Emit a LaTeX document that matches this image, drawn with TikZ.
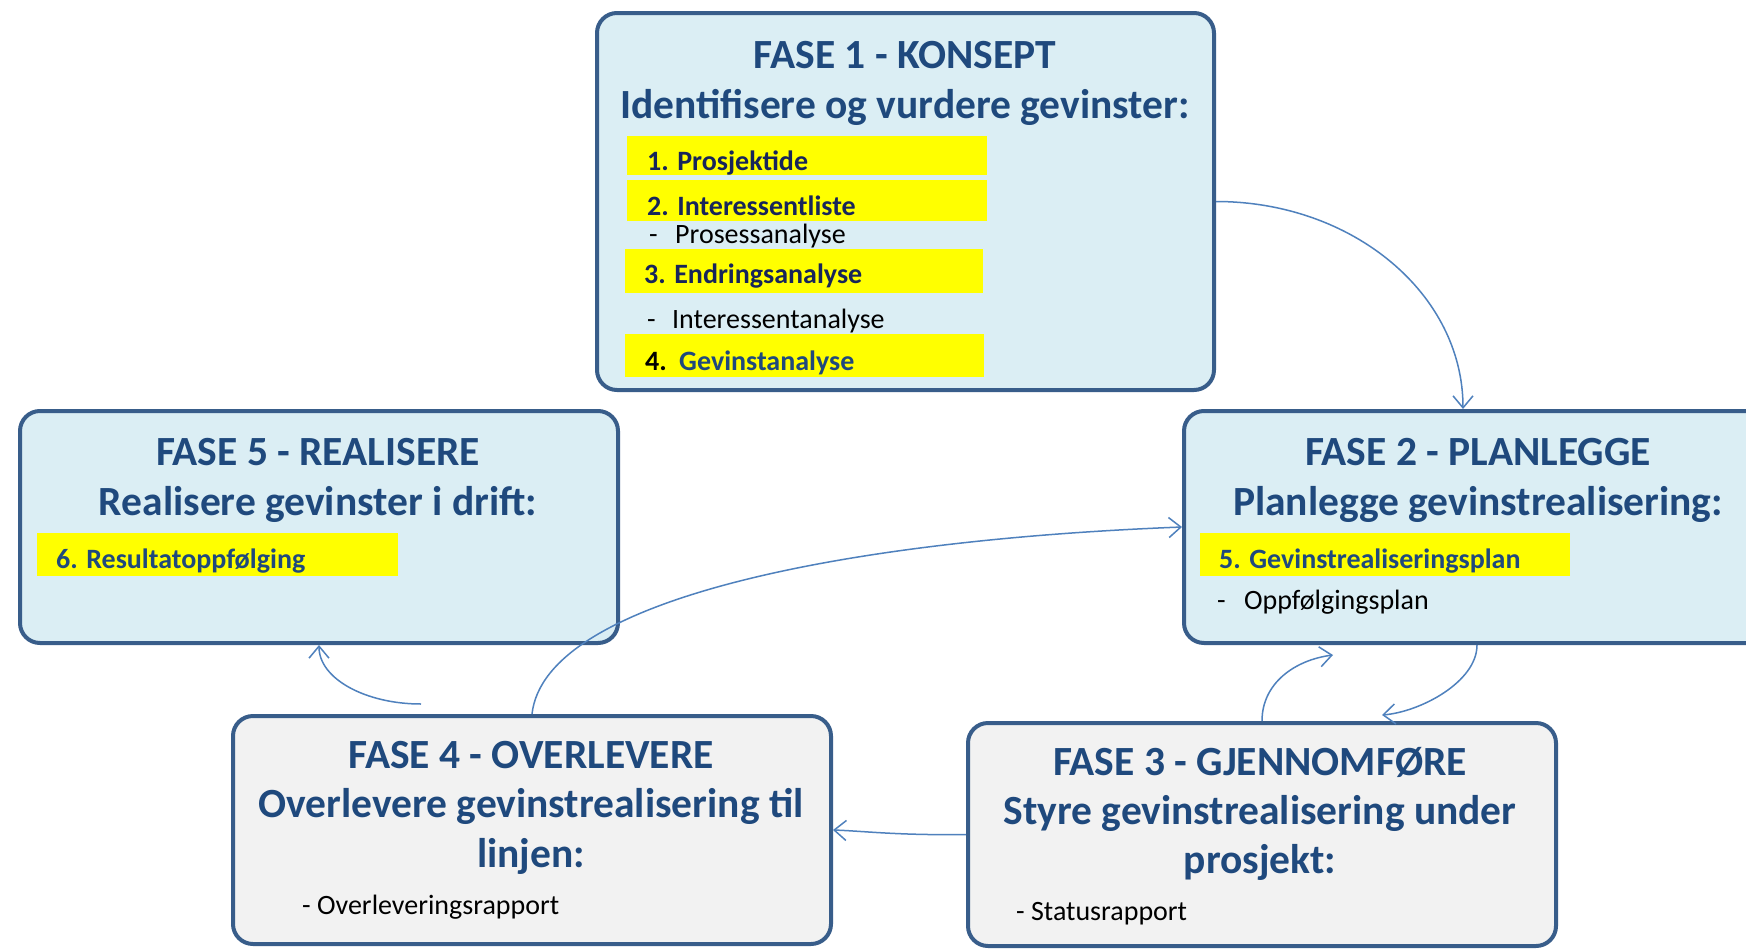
\documentclass[tikz,border=0pt]{standalone}
\usepackage{fontspec}
\setmainfont{Carlito}
\usetikzlibrary{arrows.meta,calc}
\definecolor{boxline}{HTML}{385D8A}
\definecolor{bluefill}{HTML}{DBEEF4}
\definecolor{grayfill}{HTML}{F2F2F2}
\definecolor{titlecol}{HTML}{1F497D}
\definecolor{navy}{HTML}{17255A}
\definecolor{arrowcol}{HTML}{4F81BD}
\definecolor{hlyellow}{HTML}{FFFF00}
\begin{document}
\begin{tikzpicture}[x=1pt,y=-1pt,
  phase/.style={draw=boxline, line width=4pt, rounded corners=20pt, inner sep=0pt},
  ttl/.style={font=\fontsize{41.5}{49}\selectfont\bfseries, text=titlecol, inner sep=0pt, anchor=base},
  hlbox/.style={fill=hlyellow, inner sep=0pt, anchor=north west},
  itm/.style={font=\fontsize{28}{34}\selectfont\bfseries, inner sep=0pt, anchor=base west},
  plain/.style={font=\fontsize{28}{34}\selectfont, inner sep=0pt, anchor=base west, text=black},
  conn/.style={draw=arrowcol, line width=1.5pt, -{Straight Barb[length=12pt,width=20pt]}}
]
\fill[white] (0,0) rectangle (1746,948);
\clip (0,0) rectangle (1746,948);

% boxes
\node[phase, fill=bluefill, minimum width=617pt, minimum height=377pt] (b1) at (905.5,201.5) {};
\node[phase, fill=bluefill, minimum width=598pt, minimum height=232pt] (b5) at (319,527) {};
\node[phase, fill=bluefill, minimum width=588pt, minimum height=232pt] (b2) at (1478,527) {};
\node[phase, fill=grayfill, minimum width=598pt, minimum height=228pt] (b4) at (532,830) {};
\node[phase, fill=grayfill, minimum width=588pt, minimum height=223pt] (b3) at (1262,834.5) {};

% box 1 texts
\node[ttl] (t1a) at (905,68) {FASE 1 - KONSEPT};
\node[ttl] (t1b) at (905,118) {Identifisere og vurdere gevinster:};
\node[hlbox, minimum width=360pt, minimum height=39pt] (h1) at (627,136) {};
\node[hlbox, minimum width=360pt, minimum height=41pt] (h2) at (627,180) {};
\node[hlbox, minimum width=358pt, minimum height=44pt] (h3) at (625,249) {};
\node[hlbox, minimum width=359pt, minimum height=43pt] (h4) at (625,334) {};
\node[itm, text=navy] (i1) at (647,170) {1. Prosjektide};
\node[itm, text=navy] (i2) at (647,215) {2. Interessentliste};
\node[plain] (p1) at (649,243) {\makebox[26pt][l]{-}Prosessanalyse};
\node[itm, text=navy] (i3) at (644,283) {3. Endringsanalyse};
\node[plain] (p2) at (647,328) {\makebox[25pt][l]{-}Interessentanalyse};
\node[itm, text=black] (i4) at (645,370) {\makebox[34pt][l]{4.}\textcolor{titlecol}{Gevinstanalyse}};

% box 5 texts
\node[ttl] (t5a) at (318,465) {FASE 5 - REALISERE};
\node[ttl] (t5b) at (318,515) {Realisere gevinster i drift:};
\node[hlbox, minimum width=361pt, minimum height=43pt] (h6) at (37,533) {};
\node[itm, text=titlecol] (i6) at (56,568) {6. Resultatoppfølging};

% box 2 texts
\node[ttl] (t2a) at (1478,465) {FASE 2 - PLANLEGGE};
\node[ttl] (t2b) at (1478,515) {Planlegge gevinstrealisering:};
\node[hlbox, minimum width=370pt, minimum height=43pt] (h5) at (1200,533) {};
\node[itm, text=titlecol] (i5) at (1219,568) {5. Gevinstrealiseringsplan};
\node[plain] (p5) at (1217,609) {\makebox[27pt][l]{-}Oppfølgingsplan};

% box 4 texts
\node[ttl] (t4a) at (531,768) {FASE 4 - OVERLEVERE};
\node[ttl] (t4b) at (531,817) {Overlevere gevinstrealisering til};
\node[ttl] (t4c) at (531,867) {linjen:};
\node[plain] (p4) at (302,914) {- Overleveringsrapport};

% box 3 texts
\node[ttl] (t3a) at (1260,775) {FASE 3 - GJENNOMFØRE};
\node[ttl] (t3b) at (1260,824) {Styre gevinstrealisering under};
\node[ttl] (t3c) at (1260,873) {prosjekt:};
\node[plain] (p3) at (1016,920) {- Statusrapport};

% free ends
\coordinate (c3s) at (421,704);
\coordinate (c5e) at (1333,655);
\coordinate (c6e) at (1382,715);

% connectors
\draw[conn] (b1.east) .. controls +(137,0) and +(0,-115) .. ([xshift=-15pt]b2.north);
\draw[conn] (b4.north) .. controls +(13,-116) and +(-334,13) .. (b2.west);
\draw[conn] (c3s) .. controls +(-55,0) and +(0,34) .. (b5.south);
\draw[conn] (b3.west) .. controls +(-68,1) and +(30,1) .. (b4.east);
\draw[conn] (b3.north) .. controls +(0,-38) and +(-38,5) .. (c5e);
\draw[conn] ([xshift=-1pt]b2.south) .. controls +(0,37) and +(38,-3) .. (c6e);
\end{tikzpicture}
\end{document}
